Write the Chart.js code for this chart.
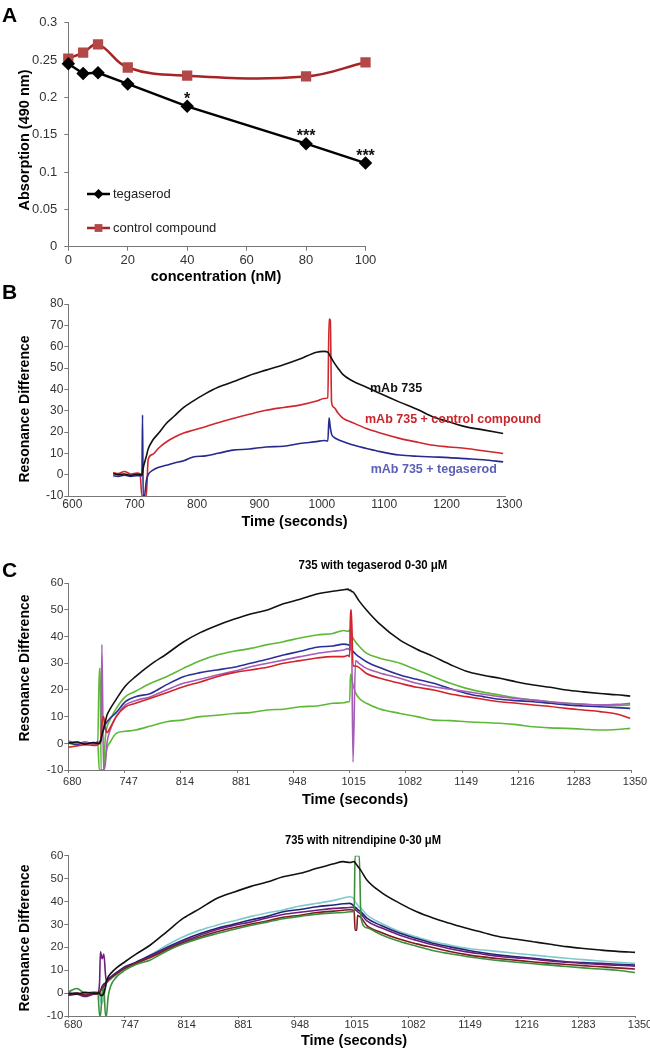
<!DOCTYPE html>
<html>
<head>
<meta charset="utf-8">
<script src="https://cdn.jsdelivr.net/npm/chart.js@4.4.1/dist/chart.umd.min.js"></script>
<style>
  html, body { margin: 0; padding: 0; background: #fff; }
  #page { position: relative; width: 650px; height: 1050px; overflow: hidden; }
  canvas { position: absolute; left: 0; }
</style>
</head>
<body>
<div id="page">
  <canvas id="chartA" width="650" height="290" style="top:0px"></canvas>
  <canvas id="chartB" width="650" height="250" style="top:285px"></canvas>
  <canvas id="chartC1" width="650" height="280" style="top:540px"></canvas>
  <canvas id="chartC2" width="650" height="235" style="top:815px"></canvas>
</div>
<script>
// ---- panel A: absorption vs concentration ----
const concentration = [0, 5, 10, 20, 40, 80, 100];
const tegaserodAbs = [0.245, 0.232, 0.233, 0.218, 0.188, 0.138, 0.112];
const controlAbs = [0.252, 0.26, 0.271, 0.24, 0.229, 0.228, 0.247];
const significance = ['', '', '', '', '*', '***', '***'];
const absTicks = [0, 0.05, 0.1, 0.15, 0.2, 0.25, 0.3];
const concTicks = [0, 20, 40, 60, 80, 100];

// ---- panel B: sensorgram, mAb 735 ----
const timeB = [672, 680, 690, 700, 710, 715, 718, 719, 720, 722, 725, 728, 735, 745, 757, 770, 785, 800, 820, 840,
  864, 890, 917, 945, 971, 998, 1010, 1016, 1018, 1020, 1022, 1026, 1032, 1040, 1055, 1078, 1100, 1131, 1160, 1185,
  1210, 1238, 1265, 1297];
const mab735 = [0.5, 0, 0.3, -0.3, 0.2, 0, 0, 1, 3, 5.5, 8.5, 12, 16, 19.5, 24, 27.5, 31.5, 34.5, 38, 41,
  43.5, 46.5, 49, 51.5, 54.2, 57.4, 57.8, 57.4, 56.5, 55.5, 54.5, 52.5, 50, 47, 44, 41, 38, 34, 30.5, 27,
  24.8, 22.4, 21, 19.3];
const mab735Control = [1, 0.5, 1.5, 0.3, 0.8, 0.5, -10, -10, -10, -10, -10, 7, 9.5, 12.5, 15.3, 17.5, 19.5, 20.8, 22.5, 24.3,
  26.3, 28.3, 30.2, 31.5, 32.6, 34.5, 35.7, 36, 73, 72.5, 34, 31.5, 29, 26.5, 24.5, 21.6, 19.5, 17, 15.2, 13.8,
  13, 12.3, 11.2, 9.9];
const mab735Tegaserod = [-0.5, -0.8, -0.3, -0.8, -0.5, -0.5, -0.5, 28, -10, -10, -3, 0, 2, 3.5, 4.4, 5.5, 6.5, 8.3, 8.8, 10,
  11.5, 12, 13, 13.3, 14.6, 15.5, 16, 15.8, 26.6, 22, 19, 17.5, 16.5, 15.5, 14, 12.3, 10.8, 9.2, 8.6, 8.3,
  8, 7.5, 7, 6];
const timeTicksB = [600, 700, 800, 900, 1000, 1100, 1200, 1300];
const respTicksB = [-10, 0, 10, 20, 30, 40, 50, 60, 70, 80];

// ---- panel C (top): 735 with tegaserod 0-30 uM ----
const timeC1 = [680, 690, 700, 710, 715, 717, 718, 719, 720, 722, 724, 726, 730, 737, 748, 760, 778, 797, 817, 837,
  857, 877, 897, 917, 936, 956, 976, 995, 1008, 1013, 1015, 1016, 1017, 1019, 1022, 1026, 1035, 1050, 1075, 1095,
  1115, 1135, 1154, 1174, 1194, 1214, 1234, 1254, 1273, 1293, 1313, 1333, 1349];
const tegBlack = [0, 0.5, -0.3, 0.3, 0, 0, 0.5, 1.5, 3, 5.5, 8, 10.5, 13, 16.5, 21.5, 25, 29.5, 33.5, 38, 41.5,
  44.2, 46.5, 48.5, 50, 52.3, 54, 56, 57, 57.6, 57.8, 57.3, 57.5, 57, 56.8, 55.5, 53.5, 50, 45, 38.7, 35.3,
  32.5, 29.5, 27, 25.5, 24.4, 23, 21.9, 21, 20, 19.3, 18.7, 18.2, 17.7];
const tegGreenHigh = [0, -0.5, 0.5, 0, 0.3, 28, 28, -10, -10, -10, 2, 6, 9, 13, 17.5, 19.5, 22.5, 25, 28.1, 31,
  33.1, 34.5, 35.6, 37, 38.1, 39.5, 40.6, 41.2, 42.3, 42, 42.5, 41.5, 40.5, 39.5, 38, 36.5, 33.8, 32, 30, 27.5,
  25, 22.5, 20.6, 19.2, 18.1, 17, 16.2, 15.5, 15, 14.6, 14.4, 14.2, 14.4];
const tegBlue = [0.5, -0.5, 0.3, 0, 0.5, 0, 0, 1, 3, 5, 7, 8, 9.5, 11.5, 15.6, 17.5, 18.7, 22, 25, 26.5,
  27.5, 28.5, 30, 31.5, 33.1, 34.5, 36, 36.5, 37.2, 37, 36.5, 35.5, 35, 34.5, 33.5, 32.5, 30.6, 28.5, 25.6, 24,
  22.5, 20.5, 18.7, 17.5, 16.5, 16, 15.6, 15, 14.4, 14, 13.7, 13.4, 13.1];
const tegPurple = [1, 0, 0.5, -0.5, 0, 0.5, 1, 1, 37, -10, -8, 0, 5, 10, 14.4, 16, 17.5, 20, 22.5, 24,
  25.6, 27, 28.7, 30, 31.2, 32.5, 33.7, 34.5, 35, 35.5, 35, 35, 47.5, -7, 31, 30, 28.1, 26.5, 24.4, 22.5,
  21.2, 20.3, 19.4, 18.4, 17.5, 16.8, 16.2, 15.6, 15, 14.7, 14.4, 14.6, 15];
const tegRed = [-1.5, -1, -0.5, -0.8, -0.5, 0, 0.5, 2, 7, 10, 6, 4, 6, 10, 13.7, 15, 16.9, 19, 21.2, 23,
  25, 26.5, 27.5, 28.5, 30, 31, 32, 32.5, 32.5, 33, 32.5, 50, 50, 29, 29, 28.5, 26.2, 24.5, 22.5, 21,
  20, 18.5, 17.5, 16.5, 15.6, 15, 14.4, 13.8, 13.1, 12.5, 11.9, 11, 9.4];
const tegGreenLow = [0, 0.5, -0.5, 0.3, 0, -10, -10, -10, -10, -10, -6, -2, 0.5, 3.7, 4.5, 5, 6.5, 8.1, 8.8, 10,
  10.5, 11.2, 11.5, 12.5, 12.8, 13.7, 14, 15, 15.2, 15.6, 15.6, 26, 25, 22, 19, 17, 15, 13, 11.2, 10,
  8.7, 8.5, 8.1, 7.8, 7.5, 7, 6.2, 5.8, 5.6, 5.3, 5, 5.2, 5.6];

// ---- panel C (bottom): 735 with nitrendipine 0-30 uM ----
const timeC2 = [680, 690, 700, 710, 715, 717, 718, 720, 722, 724, 725, 727, 730, 737, 747, 760, 777, 797, 816, 836,
  856, 875, 895, 915, 934, 954, 974, 994, 1005, 1013, 1018, 1019, 1021, 1022, 1024, 1026, 1033, 1050, 1072, 1092,
  1112, 1131, 1151, 1170, 1190, 1210, 1230, 1250, 1269, 1289, 1309, 1329, 1350];
const nitBlack = [0, -0.5, 0.3, 0, 0, 0, -1, -1, 0, 3, 5, 7, 8.5, 11, 13.7, 17, 21, 27, 32.7, 37,
  41.4, 44, 46.5, 48.5, 50.8, 52.3, 54.5, 56.5, 57.4, 57, 57.5, 57, 56, 55.5, 54.5, 53.5, 49.4, 44, 39.2, 35.5,
  32.7, 30.5, 28.3, 26.5, 24.6, 23.5, 22.4, 21.3, 20.3, 19.5, 18.8, 18.2, 17.8];
const nitCyan = [0.5, 0, -0.5, 0, 0.5, 0, -3, -4.5, -2, 2, 4, 5, 6, 7.9, 10.5, 13, 16.6, 21, 24.6, 27.5,
  29.7, 31.5, 33.4, 35, 36.3, 38, 39.2, 40.5, 41.5, 42.1, 41, 40, 39, 38.5, 37.5, 37, 34.1, 30.5, 26.8, 24.5,
  22.4, 21, 19.6, 18.8, 18.1, 17.3, 16.6, 15.9, 15.2, 14.6, 14, 13.5, 13];
const nitNavy = [-0.5, 0, -1, -0.5, 0, 0.5, 1, 3, 4, 4.5, 5, 6, 7, 9, 11.5, 13.5, 16.5, 20, 23.2, 26,
  28.3, 30, 31.9, 33.5, 35.5, 36.5, 37.7, 38.5, 39, 39.2, 38, 37.5, 37, 36.5, 36, 35.5, 32.7, 29.5, 26.1, 23.8,
  21.7, 20.2, 18.8, 17.6, 16.6, 15.9, 15.2, 14.4, 13.7, 13.3, 13, 12.6, 12.3];
const nitPurple = [-1, -0.5, -1.5, -0.5, 0, 5, 18, 15, 17, 8, 5, 5.5, 6.5, 8.5, 11, 13, 16, 19.5, 22.5, 25.3,
  27.8, 29.5, 31, 32.8, 34.3, 35.3, 36.2, 37, 37.2, 37.4, 37.5, 36.5, 36, 35.5, 35, 34.5, 31.5, 28.5, 25.3, 23,
  21, 19.4, 18, 17, 16, 15.4, 14.8, 14, 13.5, 13, 12.5, 12.2, 11.8];
const nitDarkRed = [-1, 0, -1, 0, -0.5, 0, 1, 2, 3, 4, 4.5, 5.5, 6.5, 8.5, 10.8, 13, 15.5, 19, 22, 24.5,
  26.8, 28.5, 30.1, 31.5, 33.1, 34, 35.2, 35.8, 36.2, 36.4, 36, 27.5, 27.5, 34, 33.5, 33, 29.5, 26.5, 23.5, 21.5,
  19.8, 18.2, 16.8, 15.8, 15, 14.3, 13.6, 13, 12.5, 12, 11.5, 11, 10.5];
const nitGreen = [0.5, 2, 0, 0.5, 0, -10, -10, 0, 2, -10, -10, -2, 3, 7, 10, 12.5, 14.5, 18.5, 21.5, 24,
  26, 27.8, 29.5, 31, 32.5, 33.5, 34.5, 35, 35.2, 35.5, 35.5, 60, 60, 60, 60, 33, 28.5, 25.5, 22.5, 20.5,
  18.5, 17.2, 16, 15, 14.2, 13.5, 12.8, 12.2, 11.6, 11, 10.5, 10, 9];

const timeTicksC = [680, 747, 814, 881, 948, 1015, 1082, 1149, 1216, 1283, 1350];
const respTicksC = [-10, 0, 10, 20, 30, 40, 50, 60];

// ---- helpers ----
const SANS = "'Liberation Sans', Arial, sans-serif";
const AXIS = '#777';

function pts(xs, ys) {
  return xs.map((x, i) => ({ x: x, y: ys[i] }));
}

function fixedTicks(values) {
  return function (scale) {
    scale.ticks = values.map(v => ({ value: v }));
  };
}

// draws free text (titles, labels); sx squeezes text horizontally like a narrow face
function textPlugin(items, extra) {
  return {
    id: 'panelText',
    afterDraw(chart) {
      const ctx = chart.ctx;
      items.forEach(t => {
        ctx.save();
        ctx.font = t.font;
        ctx.fillStyle = t.color || '#000';
        ctx.textAlign = t.align || 'center';
        ctx.textBaseline = t.baseline || 'middle';
        ctx.translate(t.x, t.y);
        if (t.rot) ctx.rotate(t.rot);
        if (t.sx) ctx.scale(t.sx, 1);
        ctx.fillText(t.text, 0, 0);
        ctx.restore();
      });
      if (extra) extra(chart, ctx);
    }
  };
}

function trace(label, xs, ys, color) {
  return {
    label: label,
    data: pts(xs, ys),
    borderColor: color,
    borderWidth: 1.6,
    pointRadius: 0,
    cubicInterpolationMode: 'monotone',
    fill: false
  };
}

function xAxis(min, max, ticks, opts) {
  return {
    type: 'linear', min: min, max: max,
    afterBuildTicks: fixedTicks(ticks),
    afterFit: s => { s.height = opts.height; },
    grid: { drawOnChartArea: false, drawTicks: opts.tickLength > 0, tickLength: opts.tickLength, color: AXIS },
    border: { color: AXIS, width: 1 },
    ticks: {
      autoSkip: false, maxRotation: 0, padding: opts.pad, labelOffset: opts.offset || 0,
      color: '#333', font: { family: SANS, size: opts.size || 13 },
      callback: v => String(v)
    }
  };
}

function yAxis(min, max, ticks, opts) {
  return {
    type: 'linear', min: min, max: max,
    afterBuildTicks: fixedTicks(ticks),
    afterFit: s => { s.width = 68.3; },
    grid: { drawOnChartArea: false, drawTicks: true, tickLength: opts.tickLength, color: AXIS },
    border: { color: AXIS, width: 1 },
    ticks: {
      autoSkip: false, padding: opts.pad,
      color: '#333', font: { family: SANS, size: opts.size || 13 },
      callback: v => String(v)
    }
  };
}

const base = {
  responsive: false,
  animation: false,
  plugins: { legend: { display: false }, tooltip: { enabled: false } }
};

const ROT = -Math.PI / 2;
const TITLE = "bold 14.5px " + SANS;
const LETTER = "bold 21px " + SANS;

// ---- chart A ----
new Chart(document.getElementById('chartA'), {
  type: 'line',
  data: {
    datasets: [
      {
        label: 'tegaserod',
        data: pts(concentration, tegaserodAbs),
        borderColor: '#000', borderWidth: 2.5, tension: 0,
        pointStyle: 'rectRot', pointRadius: 5, pointBackgroundColor: '#000', pointBorderColor: '#000',
        clip: false
      },
      {
        label: 'control compound',
        data: pts(concentration, controlAbs),
        borderColor: '#a82323', borderWidth: 2.5, tension: 0.4,
        pointStyle: 'rect', pointRadius: 5.5, pointBackgroundColor: '#b34848', pointBorderColor: '#b34848',
        clip: false
      }
    ]
  },
  options: Object.assign({}, base, {
    layout: { padding: { top: 22.7, right: 284.5, left: 0, bottom: 0 } },
    scales: {
      x: xAxis(0, 100, concTicks, { height: 43.3, tickLength: 4, pad: 2 }),
      y: yAxis(0, 0.3, absTicks, { tickLength: 4, pad: 7 })
    }
  }),
  plugins: [textPlugin([
    { text: 'A', x: 2, y: 22, font: LETTER, align: 'left', baseline: 'alphabetic' },
    { text: 'Absorption (490 nm)', x: 24.5, y: 140, rot: ROT, font: TITLE },
    { text: 'concentration (nM)', x: 216, y: 277, font: TITLE },
    { text: 'tegaserod', x: 113, y: 194, align: 'left', font: '13px ' + SANS, color: '#222' },
    { text: 'control compound', x: 113, y: 228, align: 'left', font: '13px ' + SANS, color: '#222' }
  ], function (chart, ctx) {
    // legend samples
    ctx.save();
    ctx.lineWidth = 2.5;
    ctx.strokeStyle = '#000';
    ctx.beginPath(); ctx.moveTo(87, 194); ctx.lineTo(110, 194); ctx.stroke();
    ctx.fillStyle = '#000';
    ctx.beginPath(); ctx.moveTo(98.5, 189); ctx.lineTo(103.5, 194); ctx.lineTo(98.5, 199); ctx.lineTo(93.5, 194); ctx.closePath(); ctx.fill();
    ctx.strokeStyle = '#a82323';
    ctx.beginPath(); ctx.moveTo(87, 228); ctx.lineTo(110, 228); ctx.stroke();
    ctx.fillStyle = '#b34848';
    ctx.fillRect(94.6, 224.1, 7.8, 7.8);
    // significance marks above tegaserod points
    const meta = chart.getDatasetMeta(0);
    ctx.fillStyle = '#111';
    ctx.font = 'bold 16px ' + SANS;
    ctx.textAlign = 'center';
    ctx.textBaseline = 'alphabetic';
    significance.forEach((s, i) => {
      if (!s) return;
      const p = meta.data[i];
      ctx.fillText(s, p.x, p.y - 2.5);
    });
    ctx.restore();
  })]
});

// ---- chart B ----
new Chart(document.getElementById('chartB'), {
  type: 'line',
  data: {
    datasets: [
      trace('mAb 735', timeB, mab735, '#111'),
      trace('mAb 735 + tegaserod', timeB, mab735Tegaserod, '#262a8c'),
      trace('mAb 735 + control compound', timeB, mab735Control, '#d0262c')
    ]
  },
  options: Object.assign({}, base, {
    layout: { padding: { top: 19, right: 145, left: 0, bottom: 0 } },
    scales: {
      x: xAxis(600, 1300, timeTicksB, { height: 39, tickLength: 0, pad: 1, offset: 4, size: 12 }),
      y: yAxis(-10, 80, respTicksB, { tickLength: 4, pad: 1, size: 12 })
    }
  }),
  plugins: [textPlugin([
    { text: 'B', x: 2, y: 14, font: LETTER, align: 'left', baseline: 'alphabetic' },
    { text: 'Resonance Difference', x: 25, y: 124, rot: ROT, font: 'bold 14px ' + SANS },
    { text: 'Time (seconds)', x: 294.5, y: 236.7, font: TITLE },
    { text: 'mAb 735', x: 370, y: 104, align: 'left', font: 'bold 12.5px ' + SANS, color: '#111' },
    { text: 'mAb 735 + control compound', x: 365, y: 135, align: 'left', font: 'bold 12.5px ' + SANS, color: '#c8262b' },
    { text: 'mAb 735 + tegaserod', x: 370.7, y: 185, align: 'left', font: 'bold 12.5px ' + SANS, color: '#5b5fb5' }
  ])]
});

// ---- chart C top ----
new Chart(document.getElementById('chartC1'), {
  type: 'line',
  data: {
    datasets: [
      trace('0', timeC1, tegBlack, '#111'),
      trace('1', timeC1, tegRed, '#d2232a'),
      trace('2', timeC1, tegPurple, '#a55db5'),
      trace('3', timeC1, tegBlue, '#2b2f96'),
      trace('4', timeC1, tegGreenHigh, '#5db935'),
      trace('5', timeC1, tegGreenLow, '#5db935')
    ]
  },
  options: Object.assign({}, base, {
    layout: { padding: { top: 43.3, right: 19, left: 0, bottom: 0 } },
    scales: {
      x: xAxis(680, 1350, timeTicksC, { height: 50, tickLength: 3, pad: 2, offset: 4, size: 11 }),
      y: yAxis(-10, 60, respTicksC, { tickLength: 4, pad: 1, size: 11.5 })
    }
  }),
  plugins: [textPlugin([
    { text: 'C', x: 2, y: 37, font: LETTER, align: 'left', baseline: 'alphabetic' },
    { text: '735 with tegaserod 0-30 \u03bcM', x: 373, y: 25, font: 'bold 13px ' + SANS, sx: 0.88 },
    { text: 'Resonance Difference', x: 25, y: 128, rot: ROT, font: 'bold 14px ' + SANS },
    { text: 'Time (seconds)', x: 355, y: 260, font: TITLE }
  ])]
});

// ---- chart C bottom ----
new Chart(document.getElementById('chartC2'), {
  type: 'line',
  data: {
    datasets: [
      trace('0', timeC2, nitBlack, '#111'),
      trace('1', timeC2, nitGreen, '#3c8f3c'),
      trace('2', timeC2, nitDarkRed, '#7f1d1d'),
      trace('3', timeC2, nitPurple, '#6d1f7c'),
      trace('4', timeC2, nitNavy, '#23237a'),
      trace('5', timeC2, nitCyan, '#7fc9cb')
    ]
  },
  options: Object.assign({}, base, {
    layout: { padding: { top: 40.7, right: 15, left: 0, bottom: 0 } },
    scales: {
      x: xAxis(680, 1350, timeTicksC, { height: 34, tickLength: 2, pad: 0, offset: 5, size: 11 }),
      y: yAxis(-10, 60, respTicksC, { tickLength: 4, pad: 1, size: 11.5 })
    }
  }),
  plugins: [textPlugin([
    { text: '735 with nitrendipine 0-30 \u03bcM', x: 363, y: 25, font: 'bold 13px ' + SANS, sx: 0.86 },
    { text: 'Resonance Difference', x: 25, y: 123, rot: ROT, font: 'bold 14px ' + SANS },
    { text: 'Time (seconds)', x: 354, y: 226, font: TITLE }
  ])]
});
</script>
</body>
</html>
